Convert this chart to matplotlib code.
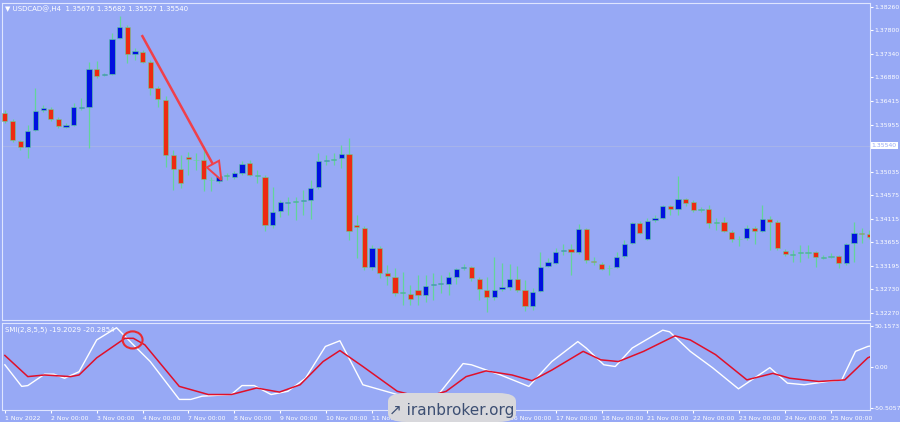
import matplotlib
matplotlib.use("Agg")
import matplotlib.pyplot as plt
from matplotlib.patches import Ellipse, FancyBboxPatch, Polygon
import numpy as np

# USDCAD H4 candles: open, high, low, close
ohlc = [
    (1.3618,1.3624,1.3599,1.3603),(1.3603,1.3607,1.3562,1.3566),(1.3564,1.3566,1.3546,1.3552),
    (1.3552,1.3595,1.3530,1.3583),(1.3585,1.3667,1.3583,1.3622),(1.3624,1.3634,1.3620,1.3628),
    (1.3626,1.3630,1.3603,1.3607),(1.3607,1.3611,1.3589,1.3593),(1.3591,1.3599,1.3589,1.3594),
    (1.3595,1.3638,1.3593,1.3630),(1.3628,1.3648,1.3624,1.3631),(1.3630,1.3718,1.3550,1.3705),
    (1.3705,1.3720,1.3687,1.3691),(1.3693,1.3697,1.3691,1.3695),(1.3695,1.3775,1.3693,1.3763),
    (1.3765,1.3808,1.3763,1.3787),(1.3787,1.3791,1.3716,1.3734),(1.3734,1.3746,1.3722,1.3740),
    (1.3738,1.3742,1.3716,1.3718),(1.3718,1.3722,1.3654,1.3667),(1.3667,1.3671,1.3630,1.3646),
    (1.3644,1.3652,1.3513,1.3536),(1.3536,1.3546,1.3468,1.3509),(1.3509,1.3536,1.3472,1.3481),
    (1.3532,1.3542,1.3497,1.3528),(1.3527,1.3540,1.3507,1.3526),(1.3526,1.3554,1.3466,1.3489),
    (1.3488,1.3493,1.3466,1.3487),(1.3485,1.3501,1.3481,1.3495),(1.3495,1.3501,1.3487,1.3496),
    (1.3493,1.3505,1.3490,1.3501),(1.3501,1.3524,1.3497,1.3519),(1.3521,1.3526,1.3495,1.3497),
    (1.3496,1.3507,1.3481,1.3495),(1.3493,1.3497,1.3387,1.3399),(1.3399,1.3474,1.3393,1.3425),
    (1.3427,1.3448,1.3415,1.3444),(1.3443,1.3454,1.3419,1.3445),(1.3445,1.3454,1.3409,1.3444),
    (1.3446,1.3468,1.3419,1.3448),(1.3448,1.3487,1.3411,1.3472),(1.3474,1.3540,1.3470,1.3524),
    (1.3525,1.3536,1.3517,1.3527),(1.3527,1.3540,1.3517,1.3528),(1.3530,1.3556,1.3511,1.3538),
    (1.3538,1.3569,1.3370,1.3387),(1.3399,1.3419,1.3334,1.3395),(1.3393,1.3397,1.3311,1.3317),
    (1.3317,1.3360,1.3311,1.3354),(1.3354,1.3358,1.3295,1.3305),(1.3305,1.3321,1.3282,1.3299),
    (1.3297,1.3315,1.3260,1.3266),(1.3266,1.3307,1.3242,1.3267),(1.3264,1.3282,1.3242,1.3254),
    (1.3272,1.3301,1.3242,1.3262),(1.3262,1.3301,1.3248,1.3280),(1.3282,1.3305,1.3252,1.3284),
    (1.3284,1.3301,1.3266,1.3286),(1.3284,1.3307,1.3262,1.3297),(1.3297,1.3315,1.3284,1.3313),
    (1.3314,1.3323,1.3311,1.3316),(1.3316,1.3319,1.3289,1.3295),(1.3293,1.3297,1.3252,1.3274),
    (1.3272,1.3297,1.3229,1.3258),(1.3258,1.3336,1.3252,1.3272),(1.3274,1.3325,1.3270,1.3278),
    (1.3278,1.3323,1.3272,1.3293),(1.3293,1.3319,1.3268,1.3272),(1.3272,1.3291,1.3231,1.3240),
    (1.3240,1.3276,1.3233,1.3268),(1.3270,1.3346,1.3268,1.3317),(1.3319,1.3334,1.3317,1.3327),
    (1.3325,1.3354,1.3323,1.3346),(1.3348,1.3362,1.3340,1.3350),(1.3352,1.3362,1.3301,1.3346),
    (1.3346,1.3401,1.3342,1.3391),(1.3391,1.3393,1.3325,1.3331),(1.3329,1.3336,1.3321,1.3327),
    (1.3323,1.3327,1.3311,1.3313),(1.3314,1.3321,1.3301,1.3315),(1.3317,1.3346,1.3315,1.3336),
    (1.3338,1.3370,1.3334,1.3362),(1.3364,1.3405,1.3362,1.3403),(1.3403,1.3407,1.3381,1.3383),
    (1.3372,1.3413,1.3370,1.3407),(1.3409,1.3419,1.3405,1.3413),(1.3413,1.3438,1.3411,1.3436),
    (1.3436,1.3438,1.3419,1.3430),(1.3430,1.3495,1.3419,1.3450),(1.3450,1.3452,1.3436,1.3442),
    (1.3444,1.3448,1.3425,1.3428),(1.3429,1.3434,1.3425,1.3430),(1.3430,1.3438,1.3393,1.3403),
    (1.3404,1.3413,1.3389,1.3405),(1.3405,1.3415,1.3385,1.3387),(1.3385,1.3389,1.3366,1.3372),
    (1.3371,1.3378,1.3358,1.3372),(1.3374,1.3399,1.3370,1.3393),(1.3393,1.3397,1.3362,1.3387),
    (1.3387,1.3438,1.3385,1.3411),(1.3411,1.3417,1.3350,1.3405),(1.3405,1.3409,1.3350,1.3354),
    (1.3348,1.3352,1.3338,1.3342),(1.3341,1.3350,1.3327,1.3342),(1.3345,1.3360,1.3327,1.3346),
    (1.3345,1.3360,1.3334,1.3346),(1.3346,1.3348,1.3317,1.3336),(1.3335,1.3340,1.3332,1.3336),
    (1.3337,1.3344,1.3334,1.3338),(1.3338,1.3340,1.3315,1.3325),(1.3325,1.3364,1.3321,1.3362),
    (1.3364,1.3405,1.3327,1.3383),(1.3383,1.3393,1.3364,1.3381),(1.3381,1.3389,1.3372,1.3376),
]

price_ticks = [1.38260, 1.37800, 1.37340, 1.36880, 1.36415, 1.35955, 1.35035,
               1.34575, 1.34115, 1.33655, 1.33195, 1.32730, 1.32270]
last_price = 1.35540

# trend arrow: shaft start/end, head tip and head base corners (index, price)
arrow_shaft_x = [17.9, 27.2]
arrow_shaft_y = [1.3771, 1.3518]
arrow_head_x = [28.3, 28.0, 26.4]
arrow_head_y = [1.3487, 1.3525, 1.3512]

# SMI indicator: (candle index, value)
smi_white_x = [0, 2.2, 3, 5.2, 6.4, 7.8, 9.7, 12, 14.6, 16.8, 19, 22.8, 24.3, 25.8, 29.6, 31,
               32.6, 34.8, 37, 39.3, 41.9, 43.8, 46.8, 51.3, 53.5, 56.5, 59.9, 61, 64.8, 68.5,
               71.5, 74.9, 76, 78.3, 79.8, 82, 86, 86.9, 89.6, 92.5, 95.9, 100, 102.3, 104.5,
               107.5, 109.4, 111.2, 112.8, 114]
smi_white = [2.5, -24, -23, -9, -9, -14, -6, 33, 48, 27, 6.5, -40, -40, -36, -34, -23,
             -23, -34, -30, -14, 25, 32, -22, -34, -38, -36, 4, 2.5, -10, -24,
             6.5, 31, 23, 2.5, 0.4, 23, 45, 43, 19, -1, -27, -1, -20, -22,
             -18, -16, 19, 25, 27]
smi_red_x = [0, 3, 5.2, 8.6, 9.7, 12, 15.7, 16.8, 18.3, 22.8, 26.6, 29.6, 32.9, 35.9, 38.6,
             41.6, 43.8, 46.8, 51.3, 54.7, 57.7, 60.3, 62.9, 66.3, 68.9, 71.5, 75.6, 77.9,
             80.2, 83.5, 87.6, 89.6, 92.9, 97, 100.4, 102.6, 106.4, 109.8, 112.8, 114]
smi_red = [14, -12, -10, -12, -10, 11, 35, 35, 27, -24, -34, -34, -26, -31, -22,
           6.5, 20, 0.4, -30, -38, -30, -12, -5, -10, -17, -4, 19, 8.6,
           6.5, 19, 38, 33, 15, -16, -8, -14, -18, -16, 11, 16]

date_labels = ["1 Nov 2022", "2 Nov 00:00", "3 Nov 00:00", "4 Nov 00:00", "7 Nov 00:00",
               "8 Nov 00:00", "9 Nov 00:00", "10 Nov 00:00", "11 Nov 00:00", "14 Nov 00:00",
               "15 Nov 00:00", "16 Nov 00:00", "17 Nov 00:00", "18 Nov 00:00", "21 Nov 00:00",
               "22 Nov 00:00", "23 Nov 00:00", "24 Nov 00:00", "25 Nov 00:00"]

BG = "#97a9f5"
BULL = "#0010e0"
BEAR = "#ee2a10"
WICK = "#63d49a"
ARROW = "#f0404a"
TXT = "white"

fig = plt.figure(figsize=(9, 4.22), dpi=100, facecolor=BG)
ax = fig.add_axes([0.002, 0.2417, 0.9647, 0.7512], facecolor=BG)
ax2 = fig.add_axes([0.002, 0.0284, 0.9647, 0.2062], facecolor=BG)

data = np.array(ohlc)
o, h, l, c = data.T
idx = np.arange(len(data))
ax.vlines(idx, l, h, color=WICK, lw=0.9, zorder=2)
body_bottom = np.minimum(o, c)
body_h = np.maximum(np.abs(c - o), 0.00012)
colors = [BULL if cc > oo + 0.00015 else (BEAR if oo > cc + 0.00015 else "#1a6a9a")
          for oo, cc in zip(o, c)]
ax.bar(idx, body_h, bottom=body_bottom, width=0.68, color=colors,
       edgecolor=WICK, linewidth=0.4, zorder=3)

ax.axhline(last_price, color="#a9b5e8", lw=0.6, zorder=1)
ax.set_xlim(-0.4, 113.1)
ax.set_ylim(1.32131, 1.38338)
ax.yaxis.tick_right()
ax.set_yticks(price_ticks)
ax.set_yticklabels([f"{p:.5f}" for p in price_ticks])
ax.tick_params(axis="y", colors=TXT, labelsize=4.4, length=2, pad=1)
ax.set_xticks([])
for s in ax.spines.values():
    s.set_color("#dfe5ff")
    s.set_linewidth(0.8)
ax.text(1.002, last_price, f"{last_price:.5f}", transform=ax.get_yaxis_transform(),
        fontsize=4.4, color="#97a9f5", va="center", ha="left",
        bbox=dict(boxstyle="square,pad=0.15", fc="white", ec="none"))
ax.text(0.004, 0.992, "\u25bc USDCAD@,H4  1.35676 1.35682 1.35527 1.35540",
        transform=ax.transAxes, fontsize=5, color=TXT, va="top", ha="left")

ax.plot(arrow_shaft_x, arrow_shaft_y, color=ARROW, lw=1.8, solid_capstyle="butt", zorder=5)
ax.add_patch(Polygon(np.column_stack([arrow_head_x, arrow_head_y]), closed=True,
                     fc=BG, ec=ARROW, lw=1.4, joinstyle="miter", zorder=6))

# SMI panel
ax2.plot(smi_white_x, smi_white, color="white", lw=1.0, zorder=3)
ax2.plot(smi_red_x, smi_red, color="#e0102a", lw=1.1, zorder=4)
ax2.add_patch(Ellipse((16.7, 33), 2.6, 21, fill=False, ec="#e82a30", lw=1.5, zorder=5))
ax2.set_xlim(-0.4, 113.1)
ax2.set_ylim(-53.0, 53.8)
ax2.yaxis.tick_right()
ax2.set_yticks([50.1573, 0, -50.5057])
ax2.set_yticklabels(["50.1573", "0.00", "-50.5057"])
ax2.tick_params(axis="y", colors=TXT, labelsize=4.4, length=2, pad=1)
ax2.set_xticks(np.arange(len(date_labels)) * 6)
ax2.set_xticklabels(date_labels)
ax2.tick_params(axis="x", colors=TXT, labelsize=4.4, length=2, pad=2)
for t in ax2.get_xticklabels():
    t.set_ha("left")
for s in ax2.spines.values():
    s.set_color("#dfe5ff")
    s.set_linewidth(0.8)
ax2.text(0.004, 0.96, "SMI(2,8,5,5) -19.2029 -20.2854", transform=ax2.transAxes,
         fontsize=5, color=TXT, va="top", ha="left")

# watermark
fig.patches.append(FancyBboxPatch((388 / 900, 0.0), 128 / 900, 29 / 422,
                                  boxstyle="round,pad=0,rounding_size=0.02",
                                  transform=fig.transFigure, fc="#d8d8dc", ec="none",
                                  zorder=10))
fig.text(452 / 900, 12 / 422, "\u2197 iranbroker.org", fontsize=11, color="#3d4f73",
         ha="center", va="center", zorder=11)

fig.savefig("out.png", dpi=100, facecolor=BG)
